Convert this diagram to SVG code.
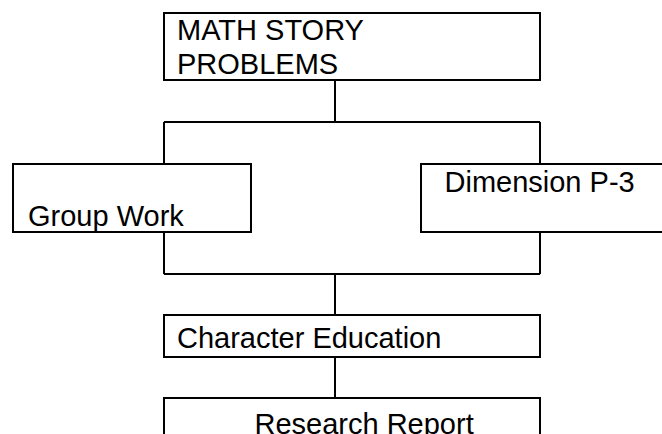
<svg xmlns="http://www.w3.org/2000/svg" width="662" height="434" viewBox="0 0 662 434">
<style>
.box{fill:#fff;stroke:#000;stroke-width:2}
.conn{fill:none;stroke:#000;stroke-width:2}
.lbl{font-family:"Liberation Sans",Arial,sans-serif;font-size:29px;fill:#000}
</style>
<rect width="662" height="434" fill="#fff"/>
<g id="connectors">
<path class="conn" d="M335,80 V122 M164,122 H540 M164,122 V164 M540,122 V164"/>
<path class="conn" d="M164,232 V274 M540,232 V274 M164,274 H540 M335,274 V315"/>
<path class="conn" d="M335,357 V398"/>
</g>
<g id="math">
<rect class="box" x="164" y="13" width="376" height="67"/>
<text class="lbl" x="177" y="39.5">MATH STORY</text>
<text class="lbl" x="177" y="73.5">PROBLEMS</text>
</g>
<g id="group">
<rect class="box" x="13" y="164" width="238" height="68"/>
<text class="lbl" x="28" y="225.5">Group Work</text>
</g>
<g id="dimension">
<rect class="box" x="421" y="164" width="280" height="68"/>
<text class="lbl" x="444.5" y="191.5">Dimension P-3</text>
</g>
<g id="character">
<rect class="box" x="164" y="315" width="376" height="42"/>
<text class="lbl" x="177" y="348">Character Education</text>
</g>
<g id="research">
<rect class="box" x="164" y="398" width="376" height="60"/>
<text class="lbl" x="254.5" y="433.5">Research Report</text>
</g>
</svg>
